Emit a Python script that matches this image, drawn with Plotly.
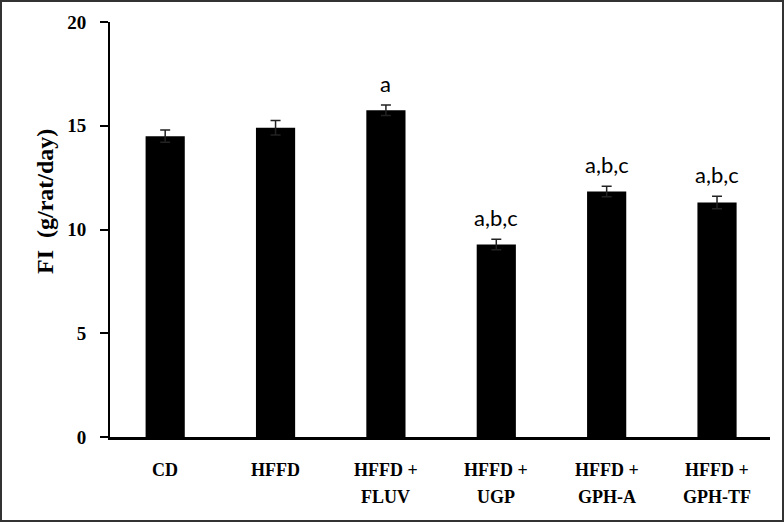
import plotly.graph_objects as go

# data
groups = ['CD', 'HFFD', 'HFFD +<br>FLUV', 'HFFD +<br>UGP', 'HFFD +<br>GPH-A', 'HFFD +<br>GPH-TF']
fi_mean = [14.5, 14.9, 15.75, 9.28, 11.83, 11.3]
fi_sem = [0.3, 0.35, 0.25, 0.25, 0.25, 0.3]
sig_labels = ['', '', 'a', 'a,b,c', 'a,b,c', 'a,b,c']
y_ticks = [0, 5, 10, 15, 20]
y_title = 'FI  (g/rat/day)'

W, H = 784, 522
ML, MR, MT, MB = 110, 14, 22, 85
pw, ph = W - ML - MR, H - MT - MB

xs = list(range(len(groups)))

fig = go.Figure()
fig.add_trace(go.Bar(
    x=xs, y=fi_mean, width=0.355,
    marker=dict(color='black', line=dict(width=0)),
    error_y=dict(type='data', array=fi_sem, visible=True,
                 color='#222222', thickness=1.5, width=5),
    showlegend=False,
))

# significance letters above error bars
for x, m, s, lab in zip(xs, fi_mean, fi_sem, sig_labels):
    if lab:
        fig.add_annotation(x=x, y=m + s, text=lab, showarrow=False,
                           yanchor='bottom', yshift=6,
                           font=dict(family='Lato', size=22, color='black'))

# category labels, one annotation per line so the line gap matches
lab_font = dict(family='Liberation Serif', size=18, color='black', weight='bold')
for x, g in zip(xs, groups):
    for i, line in enumerate(g.split('<br>')):
        fig.add_annotation(x=x, xref='x', y=-(33 + 27 * i) / ph, yref='paper',
                           text=line, showarrow=False, yanchor='middle',
                           xanchor='center', font=lab_font)

# y-axis title (sits above the middle of the axis in the original)
fig.add_annotation(x=-65 / pw, xref='paper', y=235 / ph, yref='paper',
                   text=y_title, textangle=-90, showarrow=False,
                   xanchor='center', yanchor='middle',
                   font=dict(family='Liberation Serif', size=24, color='black',
                             weight='bold'))

# outer frame
fig.add_shape(type='rect', xref='paper', yref='paper',
              x0=(-ML + 1) / pw, x1=1 + (MR - 1) / pw,
              y0=(-MB + 1) / ph, y1=1 + (MT - 1) / ph,
              line=dict(color='#333333', width=2))

fig.update_layout(
    width=W, height=H,
    margin=dict(l=ML, r=MR, t=MT, b=MB),
    plot_bgcolor='white', paper_bgcolor='white',
    font=dict(family='Liberation Serif', color='black'),
    xaxis=dict(range=[-0.5, 5.48], showticklabels=False, ticks='',
               showgrid=False, zeroline=False,
               showline=True, linecolor='black', linewidth=3),
    yaxis=dict(range=[0, 20], tickvals=y_ticks, ticks='outside', ticklen=8,
               tickwidth=2, tickcolor='black', showgrid=False, zeroline=False,
               showline=True, linecolor='black', linewidth=2,
               tickfont=dict(family='Liberation Serif', size=19, color='black',
                             weight='bold'),
               ticklabelstandoff=10),
)

fig.write_html("out.html", config={'displayModeBar': False},
               post_script="document.body.style.margin='0';")
